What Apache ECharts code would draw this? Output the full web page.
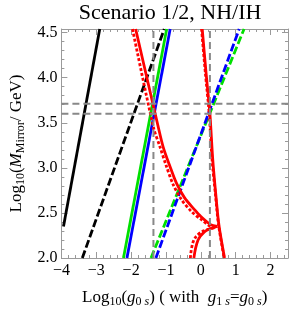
<!DOCTYPE html>
<html><head><meta charset="utf-8">
<script src="https://cdn.jsdelivr.net/npm/echarts@6/dist/echarts.min.js"></script>
<style>html,body{margin:0;padding:0;background:#fff}#c{width:291px;height:313px}</style>
</head><body><div id="c"></div>
<script>
// ---- data ----
const blackSolid   = [[-3.94, 2.35], [-2.90, 4.54]];
const blackDashed  = [[-3.40, 2.00], [-1.05, 4.54]];
const greenSolid   = [[-2.22, 2.00], [-0.98, 4.54]];
const blueSolid    = [[-2.12, 2.00], [-0.88, 4.54]];
const greenDashed  = [[-1.43, 2.00], [1.24, 4.54]];
const blueDashed   = [[-1.29, 2.00], [1.10, 4.54]];
const redSolidUpper  = [[-1.87, 4.54], [-1.22, 3.45], [-1.08, 3.23], [-0.89, 3.02], [-0.70, 2.83], [-0.47, 2.67], [-0.19, 2.54], [0.00, 2.46], [0.28, 2.37], [0.47, 2.35]];
const redDottedUpper = [[-1.96, 4.54], [-1.36, 3.45], [-1.17, 3.23], [-0.99, 3.02], [-0.80, 2.82], [-0.56, 2.65], [-0.28, 2.52], [0.00, 2.43], [0.37, 2.34], [0.47, 2.35]];
const redSolidSteep  = [[0.04, 4.54], [0.15, 4.05], [0.26, 3.60], [0.34, 3.10], [0.43, 2.70], [0.52, 2.36], [0.68, 2.00]];
const redDottedSteep = [[0.02, 4.54], [0.13, 4.05], [0.24, 3.60], [0.32, 3.10], [0.42, 2.70], [0.51, 2.36], [0.67, 2.00]];
const redSolidLower  = [[-0.20, 2.00], [-0.08, 2.20], [0.10, 2.29], [0.30, 2.33], [0.47, 2.35]];
const redDottedLower = [[-0.30, 2.00], [-0.22, 2.18], [-0.05, 2.27], [0.15, 2.31], [0.35, 2.33], [0.47, 2.35]];
const vRefX = [-1.36, 0.26];
const hRefY = [3.71, 3.60];
const xRange = [-4, 2.5];
const yRange = [2, 4.54];

const SERIF = "'Liberation Serif','Times New Roman',serif";
const frame = '#9a9a9a';

function line(data, color, type, width, z, smooth) {
  return {
    type: 'line', data: data, showSymbol: false, symbol: 'none', smooth: smooth || 0,
    lineStyle: { color: color, width: width, type: type }, z: z, silent: true, animation: false
  };
}

const W = 2.8;
const series = [
  line(blackSolid, '#000', 'solid', W, 2),
  line(blackDashed, '#000', [8, 3], W, 2),
  line(greenSolid, '#00e000', 'solid', W, 3),
  line(blueSolid, '#0000ff', 'solid', W, 3),
  line(greenDashed, '#00e000', [8, 3], W, 3),
  line(blueDashed, '#0000ff', [8, 3], W, 3),
  line(redSolidUpper, '#ff0000', 'solid', W, 4, 0.3),
  line(redDottedUpper, '#ff0000', [3, 2], W, 4, 0.3),
  line(redSolidSteep, '#ff0000', 'solid', W, 4, 0.3),
  line(redDottedSteep, '#ff0000', [3, 2], W, 4, 0.3),
  line(redSolidLower, '#ff0000', 'solid', W, 4, 0.4),
  line(redDottedLower, '#ff0000', [3, 2], W, 4, 0.4)
];
vRefX.forEach(x => series.push(line([[x, yRange[0]], [x, yRange[1]]], '#888', [7, 4], 2, 6)));
hRefY.forEach(y => series.push(line([[xRange[0], y], [xRange[1], y]], '#888', [7, 4], 2, 6)));

const rich = {
  n: { fontFamily: SERIF, fontSize: 17, lineHeight: 20, color: '#000' },
  i: { fontFamily: SERIF, fontSize: 17, lineHeight: 20, fontStyle: 'italic', color: '#000' },
  s: { fontFamily: SERIF, fontSize: 12, lineHeight: 9, verticalAlign: 'bottom', color: '#000' },
  si: { fontFamily: SERIF, fontSize: 12, lineHeight: 9, verticalAlign: 'bottom', fontStyle: 'italic', color: '#000' }
};

function xAx(pos, main) {
  return {
    type: 'value', min: xRange[0], max: xRange[1], interval: 1, position: pos,
    axisLine: { show: true, onZero: false, lineStyle: { color: frame, width: 1 } },
    axisTick: { show: true, inside: true, length: 6, lineStyle: { color: frame } },
    minorTick: { show: true, splitNumber: 5, length: 3, lineStyle: { color: frame } },
    splitLine: { show: false },
    axisLabel: main ? {
      show: true, color: '#000', fontFamily: SERIF, fontSize: 16, margin: 5,
      formatter: v => Number.isInteger(v) ? (v < 0 ? '\u2212' + (-v) : String(v)) : ''
    } : { show: false },
    name: main ? '{n|Log}{s|10}{n|(}{i|g}{s|0 }{si|s}{n|) ( with  }{i|g}{s|1 }{si|s}{n|=}{i|g}{s|0 }{si|s}{n|)}' : '',
    nameLocation: 'middle', nameGap: 30,
    nameTextStyle: { rich: rich }
  };
}
function yAx(pos, main) {
  return {
    type: 'value', min: yRange[0], max: yRange[1], interval: 0.5, position: pos,
    axisLine: { show: true, onZero: false, lineStyle: { color: frame, width: 1 } },
    axisTick: { show: true, inside: true, length: 6, lineStyle: { color: frame } },
    minorTick: { show: true, splitNumber: 5, length: 3, lineStyle: { color: frame } },
    splitLine: { show: false },
    axisLabel: main ? {
      show: true, color: '#000', fontFamily: SERIF, fontSize: 16, margin: 4,
      formatter: v => Math.abs(v * 2 - Math.round(v * 2)) < 1e-9 ? v.toFixed(1) : ''
    } : { show: false },
    name: main ? '{n|Log}{s|10}{n|(}{i|M}{s|Mirror}{n|/ GeV)}' : '',
    nameLocation: 'middle', nameGap: 33, nameRotate: 90,
    nameTextStyle: { rich: rich }
  };
}

const chart = echarts.init(document.getElementById('c'), null, { renderer: 'canvas' });
chart.setOption({
  animation: false,
  backgroundColor: '#fff',
  grid: { left: 56, right: 2, top: 29, bottom: 50, containLabel: false },
  xAxis: [xAx('bottom', true), xAx('top', false)],
  yAxis: [yAx('left', true), yAx('right', false)],
  graphic: [{
    type: 'text', x: 170, y: 13, z: 10,
    style: { text: 'Scenario 1/2, NH/IH', font: '22px ' + SERIF, fill: '#000', textAlign: 'center', textVerticalAlign: 'middle' }
  }],
  series: series
});
</script></body></html>
